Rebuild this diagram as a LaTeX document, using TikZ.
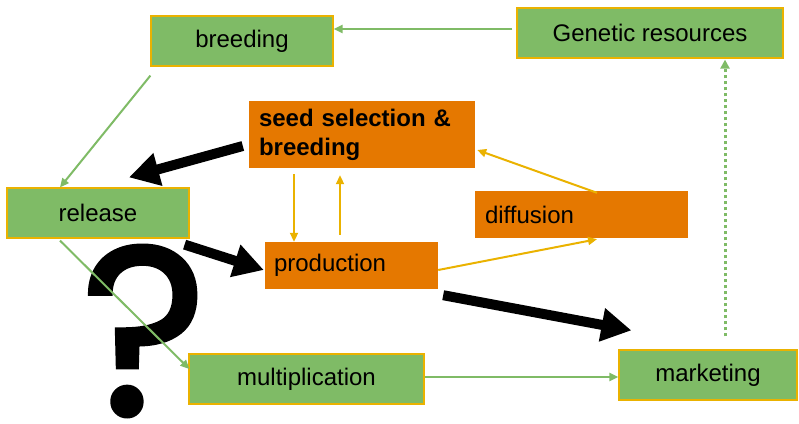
\documentclass[tikz,border=0pt]{standalone}
\usepackage{fontspec}
\setmainfont{Liberation Sans}
\newfontfamily\qfont{Poppins}[FakeBold=1.7]
\usetikzlibrary{arrows.meta,calc}
\definecolor{boxgreen}{HTML}{7FBB66}
\definecolor{boxorange}{HTML}{E57800}
\definecolor{lineyellow}{HTML}{EAB200}
\definecolor{linegreen}{HTML}{7FBB66}
\tikzset{
  gbox/.style={rectangle, fill=boxgreen, draw=lineyellow, line width=1.2pt, inner sep=0pt,
    font=\fontsize{24}{29}\selectfont, text=black},
  obox/.style={rectangle, fill=boxorange, inner sep=0pt, font=\fontsize{24}{29}\selectfont, text=black},
  garrow/.style={draw=linegreen, line width=2pt, -{Triangle[length=9pt,width=8pt]}},
  yarrow/.style={draw=lineyellow, line width=2pt, -{Triangle[length=9pt,width=8pt]}},
  fatarrow/.style={draw=black, line width=10pt, -{Triangle[length=30pt,width=32pt]}},
  dotarrow/.style={draw=linegreen, line width=3pt, dash pattern=on 3pt off 3pt, -{Triangle[length=9pt,width=9pt]}}
}
\begin{document}
\begin{tikzpicture}[x=1pt,y=-1pt]
\useasboundingbox (0,0) rectangle (799,423);
% question mark
\node[anchor=base, inner sep=0pt, font=\fontsize{240}{240}\qfont] (qmark) at (144,415) {?};
% boxes
\node[gbox, minimum width=182pt, minimum height=50pt] (breeding) at (242,41) {breeding};
\node[gbox, minimum width=266pt, minimum height=50pt] (gen) at (650,33) {Genetic resources};
\node[obox, minimum width=226pt, minimum height=67pt, text width=206pt, align=left, font=\fontsize{24}{29}\selectfont\bfseries] (seed) at (362,134.5) {seed selection \&\\breeding};
\node[gbox, minimum width=182pt, minimum height=50pt] (release) at (98,213) {release};
\node[obox, minimum width=213pt, minimum height=47pt, text width=193pt, align=left] (diff) at (581.5,214.5) {diffusion};
\node[obox, minimum width=173pt, minimum height=47pt, text width=155pt, align=left] (prod) at (351.5,265.5) {production};
\node[gbox, minimum width=235pt, minimum height=50pt] (mult) at (306.5,379) {multiplication};
\node[gbox, minimum width=178pt, minimum height=50pt] (mark) at (708,375) {marketing};
% thin arrows
\draw[garrow] ($(gen.west)+(-4,-4)$) -- ($(breeding.east)+(0,-12)$);
\draw[garrow] ($(breeding.south west)+(0,9)$) -- ($(release.north)+(-38,0)$);
\draw[garrow] ($(release.south)+(-38,2)$) -- ($(mult.west)+(1,-10)$);
\draw[garrow] ($(mult.east)+(0,-2)$) -- ($(mark.west)+(0,2)$);
\draw[dotarrow] ($(mark.north)+(17,-13)$) -- ($(gen.south)+(75,1)$);
\draw[yarrow] ($(seed.south)+(-68,6)$) -- ($(prod.north)+(-57.5,0)$);
\draw[yarrow] ($(prod.north)+(-11.5,-7)$) -- ($(seed.south)+(-22,7)$);
\draw[yarrow] ($(diff.north)+(15.5,2)$) -- ($(seed.east)+(2,15.5)$);
\draw[yarrow] ($(prod.east)+(0,4.5)$) -- ($(diff.south)+(15.5,1)$);
% fat arrows
\draw[fatarrow] ($(seed.west)+(-6,11.5)$) -- ($(release.north)+(31,-10)$);
\draw[fatarrow] ($(release.south east)+(-5,6)$) -- ($(prod.west)+(-1,4.5)$);
\draw[fatarrow] ($(prod.south east)+(5,6)$) -- ($(mark.north west)+(13,-19)$);
\end{tikzpicture}
\end{document}
